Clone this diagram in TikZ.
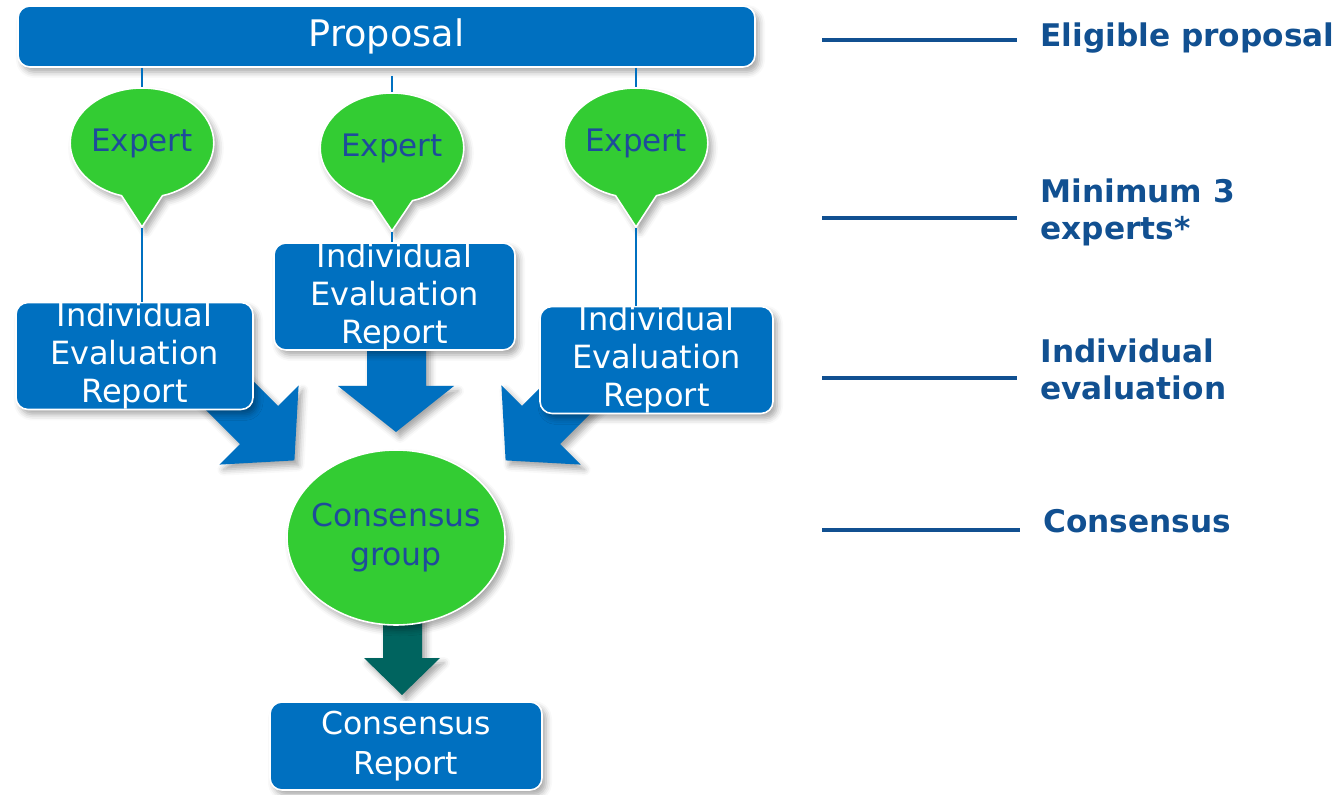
\documentclass[tikz,border=0pt]{standalone}
\usepackage{fontspec}
\setmainfont{DejaVu Sans}
\usetikzlibrary{shapes.geometric,shapes.callouts,shadows.blur}
\definecolor{boxblue}{RGB}{0,112,192}
\definecolor{bubgreen}{RGB}{51,204,51}
\definecolor{txtblue}{RGB}{30,75,155}
\definecolor{lblblue}{RGB}{17,80,145}
\definecolor{tealarr}{RGB}{0,100,95}
\tikzset{
  shad/.style={blur shadow={shadow xshift=2pt,shadow yshift=-2.5pt,shadow opacity=35,shadow blur radius=3pt}},
  bluebox/.style={shad,rectangle,rounded corners=6pt,fill=boxblue,draw=white,line width=0.8pt,
     text=white,align=center,inner sep=0pt,font=\fontsize{16pt}{19pt}\selectfont},
  bubble/.style={shad,fill=bubgreen,draw=white,line width=0.8pt,text=txtblue,inner sep=0pt,
     font=\fontsize{15.5pt}{19pt}\selectfont},
  expertbub/.style={bubble,ellipse callout,minimum width=69pt,minimum height=55pt,callout pointer arc=33},
  conn/.style={draw=boxblue,line width=0.7pt},
  blockarr/.style={shad,fill=boxblue},
  lbl/.style={text=lblblue,font=\bfseries\fontsize{15.6pt}{18.8pt}\selectfont,align=left,inner sep=0pt},
  lblline/.style={draw=lblblue,line width=2.1pt}
}
\begin{document}
\begin{tikzpicture}[x=0.5pt,y=-0.5pt]
\useasboundingbox (0,0) rectangle (1342,795);
% block arrows (behind boxes)
\fill[blockarr] (169.2,373.4) -- (239.9,444.1) -- (219.4,464.6) -- (294.4,460.4) -- (298.6,385.4) -- (278.1,405.9) -- (207.4,335.2) -- cycle;
\fill[blockarr] (630.8,373.4) -- (560.1,444.1) -- (580.6,464.6) -- (505.6,460.4) -- (501.4,385.4) -- (521.9,405.9) -- (592.6,335.2) -- cycle;
\fill[blockarr] (367,330) -- (367,386) -- (338,386) -- (396,432) -- (454,386) -- (426,386) -- (426,330) -- cycle;
\fill[shad,fill=tealarr] (383,610) -- (383,658) -- (364,658) -- (402,695) -- (440,658) -- (422,658) -- (422,610) -- cycle;
% proposal
\node[bluebox,minimum width=368.5pt,minimum height=30.5pt,font=\fontsize{18.3pt}{21pt}\selectfont] (prop) at (386.5,36.5) {Proposal};
% experts
\node[expertbub,callout absolute pointer={(142,227)}] (e1) at (142,143) {Expert};
\node[expertbub,callout absolute pointer={(392,231)}] (e2) at (392,148) {Expert};
\node[expertbub,callout absolute pointer={(636,227)}] (e3) at (636,143) {Expert};
% IER boxes
\node[bluebox,minimum width=118.5pt,minimum height=52pt] (r1) at (134.5,356) {Individual\\Evaluation\\Report};
\node[bluebox,minimum width=120.5pt,minimum height=51.5pt] (r2) at (394.5,296.5) {Individual\\Evaluation\\Report};
\node[bluebox,minimum width=116.5pt,minimum height=52pt] (r3) at (656.5,360) {Individual\\Evaluation\\Report};
% connectors
\draw[conn] (prop.south -| e1.north) -- (e1.north);
\draw[conn] (prop.south -| e2.north) ++(0,8) -- (e2.north);
\draw[conn] (prop.south -| e3.north) -- (e3.north);
\draw[conn] (e1.pointer) -- (r1.north -| e1.pointer);
\draw[conn] (e2.pointer) -- (r2.north -| e2.pointer);
\draw[conn] (e3.pointer) -- (r3.north -| e3.pointer);
% consensus
\node[bubble,ellipse,minimum width=109pt,minimum height=87.5pt,inner xsep=-5pt,align=center,
      font=\fontsize{15.75pt}{19.5pt}\selectfont] (cg) at (396,537.5) {Consensus\\group};
\node[bluebox,minimum width=136pt,minimum height=44pt,font=\fontsize{15.75pt}{20pt}\selectfont] (cr) at (406,746) {Consensus\\Report};
% labels
\draw[lblline] (822,40) -- (1017,40);
\draw[lblline] (822,218) -- (1017,218);
\draw[lblline] (822,378) -- (1017,378);
\draw[lblline] (822,530) -- (1020,530);
\node[lbl,anchor=base west] (l1) at (1040,47) {Eligible proposal};
\node[lbl,anchor=base west] (l2) at (1040,240) {Minimum 3\\experts*};
\node[lbl,anchor=base west] (l3) at (1040,400) {Individual\\evaluation};
\node[lbl,anchor=base west] (l4) at (1043,532) {Consensus};
\end{tikzpicture}
\end{document}
